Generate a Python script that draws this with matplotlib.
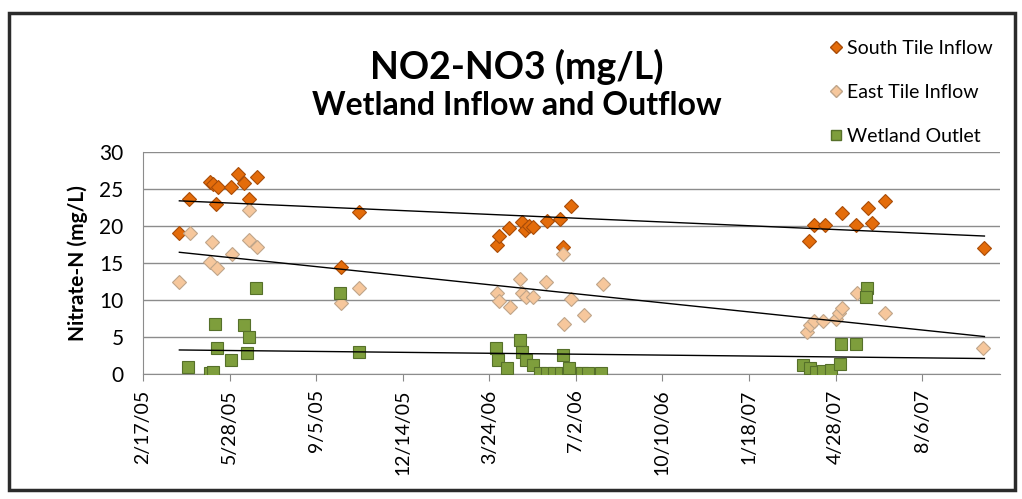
import numpy as np
import pandas as pd
import matplotlib
matplotlib.use('Agg')
import matplotlib.pyplot as plt
import matplotlib.dates as mdates
from matplotlib.patches import Rectangle
from matplotlib.lines import Line2D

plt.rcParams['font.family'] = ['Lato', 'DejaVu Sans']

south_dates = ['2005-03-31', '2005-04-11', '2005-05-05', '2005-05-09', '2005-05-15', '2005-05-12',
               '2005-05-30', '2005-06-07', '2005-06-14', '2005-06-19', '2005-06-29', '2005-10-04',
               '2005-10-25', '2006-04-02', '2006-04-04', '2006-04-16', '2006-05-01', '2006-05-04',
               '2006-05-09', '2006-05-14', '2006-05-30', '2006-06-14', '2006-06-17', '2006-06-26',
               '2007-03-28', '2007-04-03', '2007-04-16', '2007-05-05', '2007-05-22', '2007-06-04',
               '2007-06-09', '2007-06-24', '2007-10-17']
south_vals = [19.1, 23.7, 26.0, 25.7, 25.3, 23.0,
              25.3, 27.0, 25.8, 23.7, 26.6, 14.5,
              21.9, 17.4, 18.6, 19.7, 20.6, 19.5,
              20.0, 19.9, 20.7, 21.0, 17.1, 22.7,
              18.0, 20.1, 20.1, 21.8, 20.1, 22.5,
              20.4, 23.4, 17.0]

east_dates = ['2005-03-31', '2005-04-12', '2005-05-08', '2005-05-05', '2005-05-13', '2005-05-31',
              '2005-06-19', '2005-06-29', '2005-06-20', '2005-10-04', '2005-10-25', '2006-04-29',
              '2006-05-28', '2006-08-02', '2006-04-02', '2006-04-04', '2006-04-17', '2006-05-01',
              '2006-05-05', '2006-05-14', '2006-06-26', '2006-07-11', '2006-06-18', '2006-06-17',
              '2007-03-26', '2007-03-30', '2007-04-03', '2007-04-14', '2007-04-28', '2007-05-02',
              '2007-05-05', '2007-05-23', '2007-06-24', '2007-10-15']
east_vals = [12.5, 19.0, 17.9, 15.2, 14.3, 16.2,
             18.1, 17.1, 22.2, 9.6, 11.6, 12.9,
             12.5, 12.2, 11.0, 9.8, 9.1, 10.9,
             10.4, 10.4, 10.2, 8.0, 6.8, 16.2,
             5.7, 6.6, 7.1, 7.1, 7.4, 8.2,
             8.9, 10.9, 8.2, 3.5]

outlet_dates = ['2005-04-10', '2005-05-05', '2005-05-09', '2005-05-11', '2005-05-14', '2005-05-30',
                '2005-06-14', '2005-06-19', '2005-06-17', '2005-06-28', '2005-10-03', '2005-10-24',
                '2006-04-01', '2006-04-03', '2006-04-14', '2006-04-29', '2006-05-01', '2006-05-05',
                '2006-05-13', '2006-06-17', '2006-05-22', '2006-05-30', '2006-06-07', '2006-06-15',
                '2006-06-23', '2006-07-01', '2006-07-09', '2006-07-16', '2006-06-24', '2006-07-31',
                '2007-06-03', '2007-06-02', '2007-05-04', '2007-05-22', '2007-03-21', '2007-03-29',
                '2007-04-06', '2007-04-14', '2007-04-23', '2007-05-03']
outlet_vals = [0.9, 0.1, 0.3, 6.8, 3.5, 1.9,
               6.6, 5.0, 2.9, 11.6, 10.9, 3.0,
               3.5, 1.9, 0.8, 4.6, 3.0, 1.9,
               1.2, 2.6, 0.1, 0.2, 0.1, 0.1,
               0.2, 0.1, 0.2, 0.1, 0.8, 0.1,
               11.6, 10.4, 4.1, 4.1, 1.2, 0.8,
               0.3, 0.4, 0.6, 1.3]

tick_start = '2005-02-17'
tick_labels_count = 10
y_ticks = [0, 5, 10, 15, 20, 25, 30]

series = [
    ('South Tile Inflow', south_dates, south_vals, 'D', 7.5, '#E46C0A', '#A84C08'),
    ('East Tile Inflow', east_dates, east_vals, 'D', 7.5, '#F6C79C', '#BFA58A'),
    ('Wetland Outlet', outlet_dates, outlet_vals, 's', 9, '#7E9E3C', '#56702A'),
]

W, H = 1022, 499
fig = plt.figure(figsize=(W / 100, H / 100), dpi=100)
ax = fig.add_axes([143 / W, 1 - 374 / H, (1000 - 143) / W, (374 - 152) / H])

all_x = np.concatenate([mdates.date2num(pd.to_datetime(d)) for _, d, *_ in series])
x0, x1 = all_x.min(), all_x.max()

handles = []
for name, dates, vals, mk, ms, fc, ec in series:
    x = mdates.date2num(pd.to_datetime(dates))
    ax.plot(x, vals, linestyle='none', marker=mk, markersize=ms,
            markerfacecolor=fc, markeredgecolor=ec, markeredgewidth=0.8, zorder=3)
    # linear trendline, same as Excel's
    k, b = np.polyfit(x, vals, 1)
    ax.plot([x0, x1], [k * x0 + b, k * x1 + b], color='black', linewidth=1.0, zorder=4)
    handles.append(Line2D([], [], linestyle='none', marker=mk, markersize=ms * 0.75,
                          markerfacecolor=fc, markeredgecolor=ec, label=name))

start = pd.Timestamp(tick_start)
ticks = pd.date_range(start, periods=tick_labels_count, freq='100D')
ax.set_xlim(mdates.date2num(start), mdates.date2num(start + pd.Timedelta(days=990)))
ax.set_xticks(mdates.date2num(ticks))
ax.set_xticklabels([f"{t.month}/{t.day}/{t.strftime('%y')}" for t in ticks],
                   rotation=90, fontsize=14)
ax.set_ylim(0, 30)
ax.set_yticks(y_ticks)
ax.set_yticklabels([str(v) for v in y_ticks], fontsize=15)
ax.tick_params(axis='y', length=0, pad=14)
ax.tick_params(axis='x', length=5, color='#888888', pad=6)
ax.grid(axis='y', color='#8c8c8c', linewidth=1.0)
ax.set_axisbelow(True)
for s in ['top', 'right']:
    ax.spines[s].set_visible(False)
ax.spines['left'].set_color('#8c8c8c')
ax.spines['bottom'].set_color('#8c8c8c')
ax.set_ylabel('Nitrate-N (mg/L)', fontsize=15, fontweight='bold', labelpad=8)

fig.text(517 / W, 1 - 79 / H, 'NO2-NO3 (mg/L)', fontsize=27, fontweight='bold',
         ha='center', va='baseline')
fig.text(517 / W, 1 - 115 / H, 'Wetland Inflow and Outflow', fontsize=23, fontweight='bold',
         ha='center', va='baseline')

fig.legend(handles=handles, loc='upper left', bbox_to_anchor=(818 / W, 1 - 32 / H),
           frameon=False, fontsize=14, handletextpad=0.1, labelspacing=1.4,
           handlelength=1.0, borderaxespad=0)

fig.patches.append(Rectangle((9 / W, 1 - 490 / H), (1015 - 9) / W, (490 - 13) / H,
                             transform=fig.transFigure, fill=False,
                             edgecolor='#2b2b2b', linewidth=2.5))

fig.savefig('out.png', dpi=100)
